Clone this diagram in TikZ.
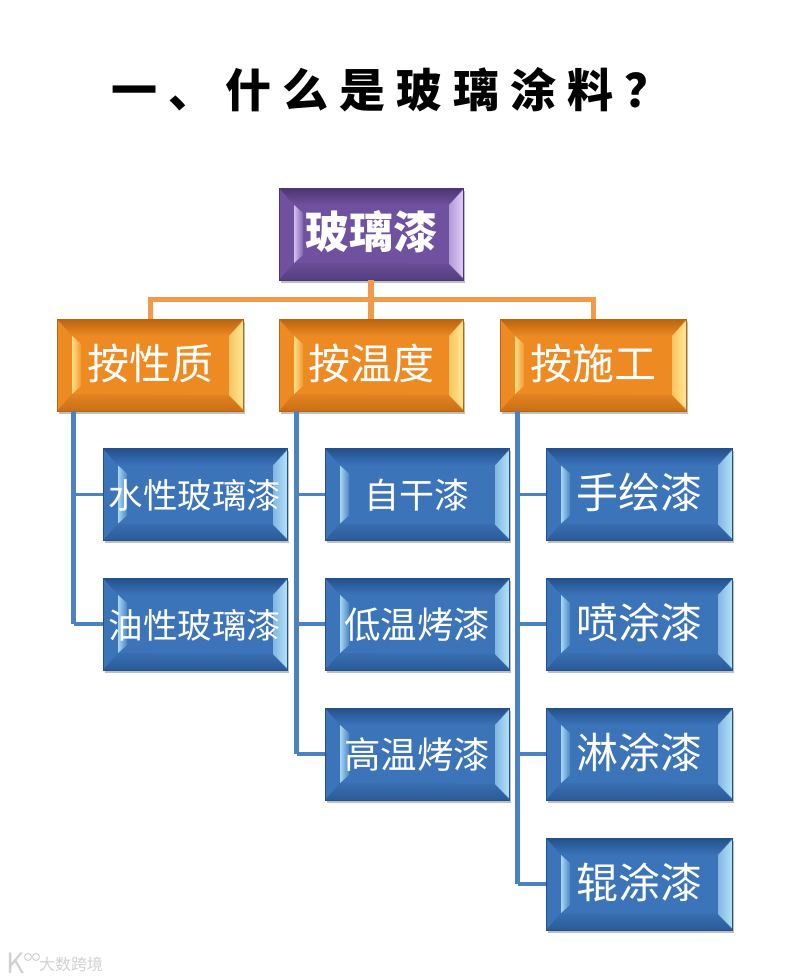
\documentclass[tikz,border=0pt]{standalone}
\usepackage{fontspec}
\setmainfont{Noto Sans CJK SC}
\usetikzlibrary{positioning,calc,shadows}

\definecolor{purpleDark}{HTML}{4A3670}
\definecolor{purpleMid}{HTML}{6F519F}
\definecolor{purpleLite}{HTML}{E0CCF7}
\definecolor{orangeDark}{HTML}{B9640F}
\definecolor{orangeMid}{HTML}{EE8A22}
\definecolor{orangeLite}{HTML}{FFE98F}
\definecolor{blueDark}{HTML}{23508A}
\definecolor{blueMid}{HTML}{3C74BA}
\definecolor{blueLite}{HTML}{B2E2FA}
\definecolor{busLine}{HTML}{F39A4A}
\definecolor{trunkLine}{HTML}{4A82C4}

% bevelled box: dark edge, face colour, bright facet
\tikzset{
	bevelbox/.style n args={3}{
		minimum width=184pt, minimum height=92pt, inner sep=0pt,
		text height=36pt, text depth=8pt,
		draw=#1, line width=0.6pt, text=white, fill=#2,
		drop shadow={shadow xshift=1.5pt, shadow yshift=-2.5pt, opacity=0.25, fill=black},
		path picture={
			\coordinate (nw) at (path picture bounding box.north west);
			\coordinate (ne) at (path picture bounding box.north east);
			\coordinate (sw) at (path picture bounding box.south west);
			\coordinate (se) at (path picture bounding box.south east);
			% top and bottom facets
			\fill[top color=#1, bottom color=#2]
				(nw) -- (ne) -- ($(ne)+(-14,17)$) -- ($(nw)+(15,17)$) -- cycle;
			\fill[top color=#2!95!black, bottom color=#1!70!#2]
				($(sw)+(15,-17)$) -- ($(se)+(-14,-16)$) -- (se) -- (sw) -- cycle;
			% left facet
			\fill[left color=#3!90!#2, right color=#2!85!#3]
				($(nw)+(15,17)$) -- ($(nw)+(24,25)$) -- ($(sw)+(24,-25)$) -- ($(sw)+(15,-17)$) -- cycle;
			% right facet
			\fill[left color=#3!60!#2, right color=#3]
				($(ne)+(0,2)$) -- ($(ne)+(-14,17)$) -- ($(se)+(-14,-16)$) -- ($(se)+(0,-2)$) -- cycle;
		}
	},
	rootbox/.style={bevelbox={purpleDark}{purpleMid}{purpleLite}, font=\fontsize{44}{44}\selectfont\bfseries},
	groupbox/.style={bevelbox={orangeDark}{orangeMid}{orangeLite}, font=\fontsize{42}{42}\selectfont},
	itembox/.style={bevelbox={blueDark}{blueMid}{blueLite}, font=\fontsize{35}{35}\selectfont},
	busline/.style={busLine, line width=5pt},
	trunkline/.style={trunkLine, line width=5.5pt},
	branchline/.style={trunkLine, line width=3.5pt}
}

\begin{document}
\begin{tikzpicture}[x=1pt,y=-1pt]
	\useasboundingbox (0,0) rectangle (790,980);
	
	% title
	\node[font=\fontsize{46}{46}\selectfont\bfseries\addfontfeature{LetterSpace=24}, anchor=center] (title) at (391,90) {一、什么是玻璃涂料？};
	
	\coordinate (bus) at (371,299);
	
	% top levels
	\node[rootbox] (root) at (371,234) {玻璃漆};
	\node[groupbox, minimum width=186pt] (prop) at (150,365) {按性质};
	\node[groupbox] (temp) at (371,365) {按温度};
	\node[groupbox, minimum width=186pt] (craft) at (593,365) {按施工};
	
	% by property
	\node[itembox, font=\fontsize{34.5}{34.5}\selectfont] (water) at (195,494.5) {水性玻璃漆};
	\node[itembox, font=\fontsize{34.5}{34.5}\selectfont] (oil) at (195,624) {油性玻璃漆};
	
	% by temperature
	\node[itembox] (selfdry) at (417,494.5) {自干漆};
	\node[itembox, font=\fontsize{36.5}{36.5}\selectfont] (lowtemp) at (417,624) {低温烤漆};
	\node[itembox, font=\fontsize{36.5}{36.5}\selectfont] (hightemp) at (417,754) {高温烤漆};
	
	% by application
	\node[itembox, minimum width=186pt, font=\fontsize{42}{42}\selectfont] (brush) at (639,494.5) {手绘漆};
	\node[itembox, minimum width=186pt, font=\fontsize{42}{42}\selectfont] (spray) at (639,624) {喷涂漆};
	\node[itembox, minimum width=186pt, font=\fontsize{42}{42}\selectfont] (curtain) at (639,754) {淋涂漆};
	\node[itembox, minimum width=186pt, font=\fontsize{42}{42}\selectfont] (roller) at (639,884) {辊涂漆};
	
	% orange bus
	\draw[busline, line width=6.5pt] (root.south) -- (temp.north);
	\draw[busline] (prop.north) |- (bus) -| (craft.north);
	
	% blue trunks
	\coordinate (propfoot) at ($(prop.south west)+(17,0)$);
	\coordinate (tempfoot) at ($(temp.south west)+(18,0)$);
	\coordinate (craftfoot) at ($(craft.south west)+(18,0)$);
	\draw[trunkline] (propfoot) -- (propfoot |- oil.west);
	\draw[trunkline] (tempfoot) -- (tempfoot |- hightemp.west);
	\draw[trunkline] (craftfoot) -- (craftfoot |- roller.west);
	\foreach \item/\foot in {water/propfoot,oil/propfoot,selfdry/tempfoot,lowtemp/tempfoot,hightemp/tempfoot,brush/craftfoot,spray/craftfoot,curtain/craftfoot,roller/craftfoot}
		\draw[branchline] (\foot |- \item.west) -- (\item.west);
	
	% watermark
	\node[text=black!18, font=\fontsize{16}{16}\selectfont] (mark) at (71,964) {大数跨境};
	\node[text=black!18, font=\fontsize{28}{28}\selectfont] (logo) at (16,963) {K};
	\node[draw=black!18, circle, line width=1pt, minimum size=7pt, inner sep=0pt] (ringa) at (28,957) {};
	\node[draw=black!18, circle, line width=1pt, minimum size=7pt, inner sep=0pt, right=0pt of ringa] (ringb) {};
\end{tikzpicture}
\end{document}
